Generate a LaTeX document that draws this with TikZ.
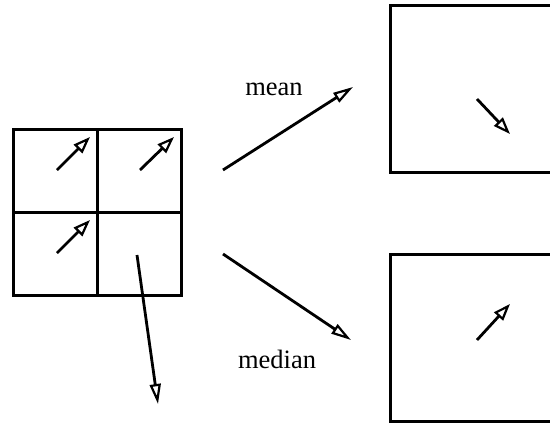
\documentclass[tikz,border=0pt]{standalone}
\usepackage{fontspec}
\setmainfont{Liberation Serif}
\usetikzlibrary{arrows.meta}
\begin{document}
\begin{tikzpicture}[x=1pt,y=-1pt,
  frame/.style={line width=3pt},
  vec/.style={line width=2.8pt,-{Triangle[open,length=17pt,width=12pt,line width=2.2pt]}},
  bigvec/.style={line width=2.8pt,-{Triangle[open,length=20pt,width=11pt,line width=2.2pt]}},
  lbl/.style={font=\fontsize{26.5}{30}\selectfont,inner sep=0pt}]
\useasboundingbox (0,0) rectangle (550,423);
% grid
\draw[frame] (13,129) rectangle (181,295);
\draw[frame] (97,129) -- (97,295);
\draw[frame] (13,212) -- (181,212);
% cell vectors
\coordinate (a1) at (57,170); \coordinate (a2) at (90,137);
\coordinate (b1) at (140,170); \coordinate (b2) at (174,137);
\coordinate (c1) at (57,253); \coordinate (c2) at (90,220);
\coordinate (d1) at (137,255); \coordinate (d2) at (158,404);
\draw[vec] (a1) -- (a2);
\draw[vec] (b1) -- (b2);
\draw[vec] (c1) -- (c2);
\draw[bigvec] (d1) -- (d2);
% main arrows
\coordinate (m1) at (223,170); \coordinate (m2) at (353,87);
\coordinate (n1) at (223,254); \coordinate (n2) at (351,340);
\draw[bigvec] (m1) -- (m2);
\draw[bigvec] (n1) -- (n2);
\node[lbl] (mean) at (274,89) {mean};
\node[lbl] (median) at (277,359) {median};
% result boxes (open on the right)
\draw[frame] (551,5) -- (390,5) -- (390,172) -- (551,172);
\draw[frame] (551,254) -- (390,254) -- (390,421) -- (551,421);
\coordinate (p1) at (477,99); \coordinate (p2) at (510,134);
\coordinate (q1) at (477,340); \coordinate (q2) at (510,304);
\draw[vec] (p1) -- (p2);
\draw[vec] (q1) -- (q2);
\end{tikzpicture}
\end{document}
